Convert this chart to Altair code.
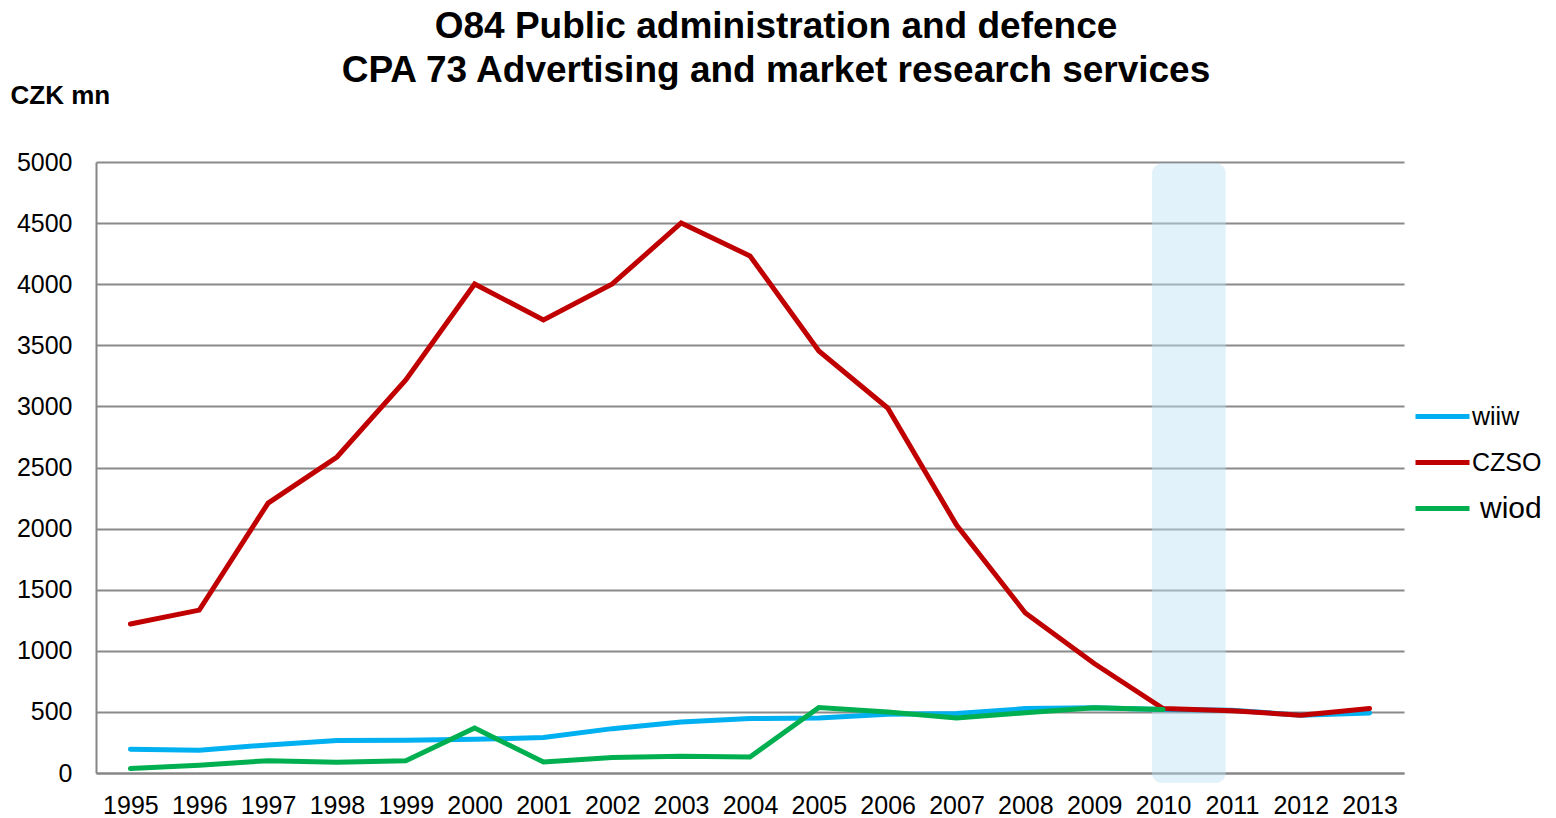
import altair as alt
import pandas as pd

years = [1995, 1996, 1997, 1998, 1999, 2000, 2001, 2002, 2003, 2004,
         2005, 2006, 2007, 2008, 2009, 2010, 2011, 2012, 2013]
wiiw = [195, 186, 230, 265, 268, 276, 290, 363, 418, 445,
        450, 481, 486, 527, 533, 519, 514, 473, 492]
czso = [1219, 1333, 2209, 2586, 3216, 4002, 3707, 4002, 4501, 4231,
        3453, 2987, 2029, 1310, 896, 527, 510, 473, 527]
wiod = [36, 63, 101, 87, 101, 369, 90, 126, 137, 131,
        536, 500, 451, 493, 533, 519]
series = ["wiiw", "CZSO", "wiod"]
colors = ["#00B0F0", "#C00000", "#00B050"]
highlight = {"x": [2009.84], "x2": [2010.91], "y": [4990], "y2": [-82]}

rows = []
for name, vals in zip(series, [wiiw, czso, wiod]):
    for i, v in enumerate(vals):
        rows.append({"year": years[i], "value": v, "series": name, "order": series.index(name)})
df = pd.DataFrame(rows)
band_df = pd.DataFrame(highlight)

FONT = "Liberation Sans"

xscale = alt.Scale(domain=[1994.5, 2013.5], nice=False, zero=False)
yscale = alt.Scale(domain=[0, 5000], nice=False)

band = alt.Chart(band_df).mark_rect(
    color="#BFE3F5", opacity=0.45, cornerRadius=10, clip=False
).encode(
    x=alt.X("x:Q", scale=xscale),
    x2="x2:Q",
    y=alt.Y("y:Q", scale=yscale),
    y2="y2:Q",
)

lines = alt.Chart(df).mark_line(strokeWidth=5, strokeCap="round", strokeJoin="miter").encode(
    x=alt.X("year:Q", scale=xscale,
            axis=alt.Axis(values=years, format="d", title=None, grid=False, ticks=False,
                          labelFontSize=25, labelFont=FONT, labelColor="#000000",
                          labelPadding=20, domainColor="#868686", domainWidth=2,
                          labelFlush=False, labelOverlap=False)),
    y=alt.Y("value:Q", scale=yscale,
            axis=alt.Axis(values=list(range(0, 5001, 500)), format="d", title="CZK mn", grid=True,
                          gridColor="#8A8A8A", gridWidth=2, ticks=False,
                          labelFontSize=25, labelFont=FONT, labelColor="#000000",
                          labelPadding=24, domainColor="#868686", domainWidth=2,
                          titleAngle=0, titleAlign="left", titleBaseline="top",
                          titleX=-86, titleY=-80, titleFontSize=26, titleFont=FONT,
                          titleFontWeight="bold", titleColor="#000000")),
    color=alt.Color("series:N", scale=alt.Scale(domain=series, range=colors),
                    legend=alt.Legend(orient="none", legendX=1317, legendY=225, title=None,
                                      symbolType="stroke", symbolStrokeWidth=5,
                                      symbolSize=2916,
                                      labelFontSize=alt.ExprRef("datum.label === 'wiod' ? 30 : 25"),
                                      labelOffset=alt.ExprRef("datum.label === 'wiod' ? 8 : 0"),
                                      labelFont=FONT,
                                      labelColor="#000000", rowPadding=3)),
    order="order:Q",
    detail="series:N",
)

chart = alt.layer(band, lines).properties(
    width=1308, height=611,
    padding={"left": 2, "top": 0, "right": 0, "bottom": 0},
    title=alt.TitleParams(
        text=["O84 Public administration and defence",
              "CPA 73 Advertising and market research services"],
        fontSize=37, font=FONT, fontWeight="bold", color="#000000",
        lineHeight=44, anchor="middle", frame="bounds", offset=-8, dx=0,
    ),
).configure_view(stroke=None)

chart.save("out.html", embed_options={"renderer": "svg", "actions": False})
